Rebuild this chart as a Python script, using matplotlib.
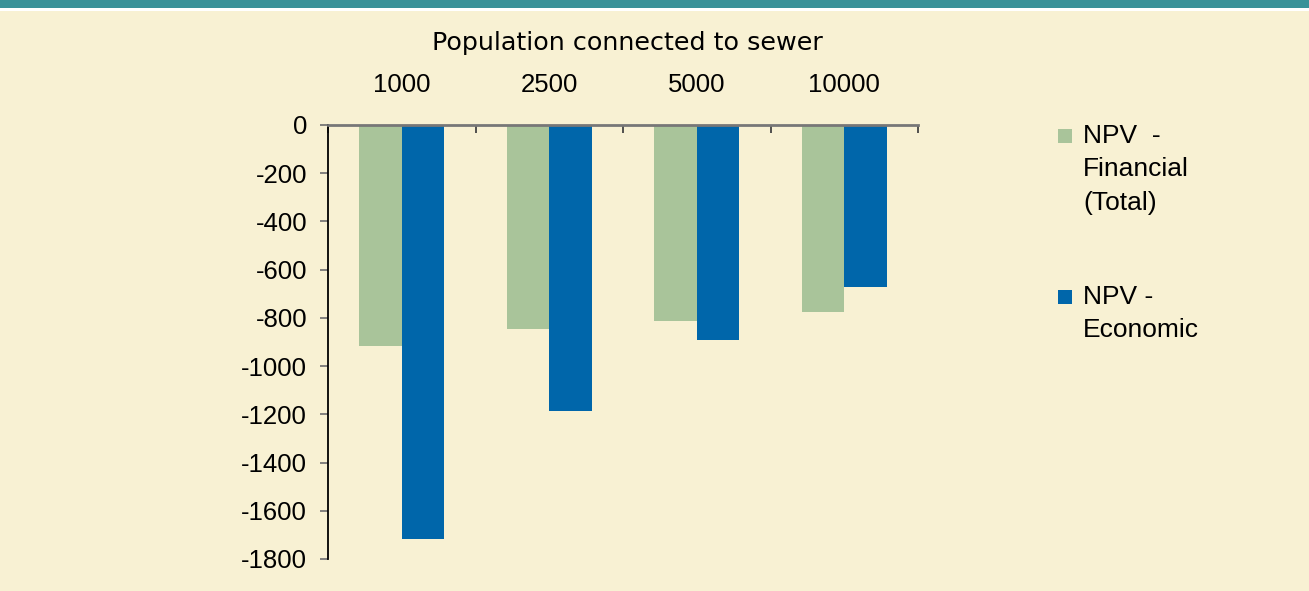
import numpy as np
import matplotlib
matplotlib.use('Agg')
import matplotlib.pyplot as plt
from matplotlib.patches import Rectangle

plt.rcParams['font.family'] = ['Liberation Sans', 'DejaVu Sans']

# data
populations = ['1000', '2500', '5000', '10000']
npv_financial = [-915, -845, -812, -775]
npv_economic = [-1715, -1185, -890, -670]
series_labels = ['NPV  -\nFinancial\n(Total)', 'NPV -\nEconomic']
y_ticks = [0, -200, -400, -600, -800, -1000, -1200, -1400, -1600, -1800]

bg = '#F8F1D3'
green = '#A9C49A'
blue = '#0066AA'

W, H = 1309, 591
fig = plt.figure(figsize=(W / 100, H / 100), dpi=100)
fig.patch.set_facecolor(bg)

# teal band + thin white line at the top
fig.patches.append(Rectangle((0, 1 - 8 / H), 1, 8 / H, transform=fig.transFigure,
                             facecolor='#3A9299', edgecolor='none'))
fig.patches.append(Rectangle((0, 1 - 10.5 / H), 1, 2.5 / H, transform=fig.transFigure,
                             facecolor='white', edgecolor='none'))

ax = fig.add_axes([328 / W, 1 - 559 / H, (918 - 328) / W, (559 - 125) / H])
ax.set_facecolor(bg)

x = np.arange(len(populations))
bw = 0.288
ax.bar(x - bw / 2, npv_financial, bw, color=green, label=series_labels[0])
ax.bar(x + bw / 2, npv_economic, bw, color=blue, label=series_labels[1])

ax.set_xlim(-0.5, len(populations) - 0.5)
ax.set_ylim(-1800, 0)

# category labels on top, ticks at group boundaries
ax.xaxis.tick_top()
ax.set_xticks(x)
ax.set_xticklabels(populations, fontsize=18.5)
ax.set_xticks(np.arange(len(populations) + 1) - 0.5, minor=True)
ax.tick_params(axis='x', which='major', length=0, pad=20.5)
ax.tick_params(axis='x', which='minor', direction='in', length=6, width=1.3, color='#444444')
ax.xaxis.set_label_position('top')
ax.set_xlabel('Population connected to sewer', fontsize=18.3, family='DejaVu Sans',
              labelpad=16)
ax.xaxis.label.set_x(0.508)

ax.set_yticks(y_ticks)
ax.set_yticklabels([str(v) for v in y_ticks], fontsize=18.5)
ax.tick_params(axis='y', direction='out', length=6, width=1.3, color='#777777', pad=9)

for s in ['right', 'bottom']:
    ax.spines[s].set_visible(False)
ax.spines['top'].set_color('#777777')
ax.spines['top'].set_linewidth(2)
ax.spines['left'].set_color('black')
ax.spines['left'].set_linewidth(1.3)

# legend, drawn by hand so the swatch sits on the first line
for lab, col, ytop, sq in [(series_labels[0], green, 124, 129), (series_labels[1], blue, 285, 290)]:
    fig.patches.append(Rectangle((1058 / W, 1 - (sq + 14) / H), 14 / W, 14 / H,
                                 transform=fig.transFigure, facecolor=col, edgecolor='none'))
    fig.text(1083 / W, 1 - ytop / H, lab, fontsize=19, va='top', ha='left',
             linespacing=1.49)

fig.savefig('out.png', dpi=100, facecolor=bg)
